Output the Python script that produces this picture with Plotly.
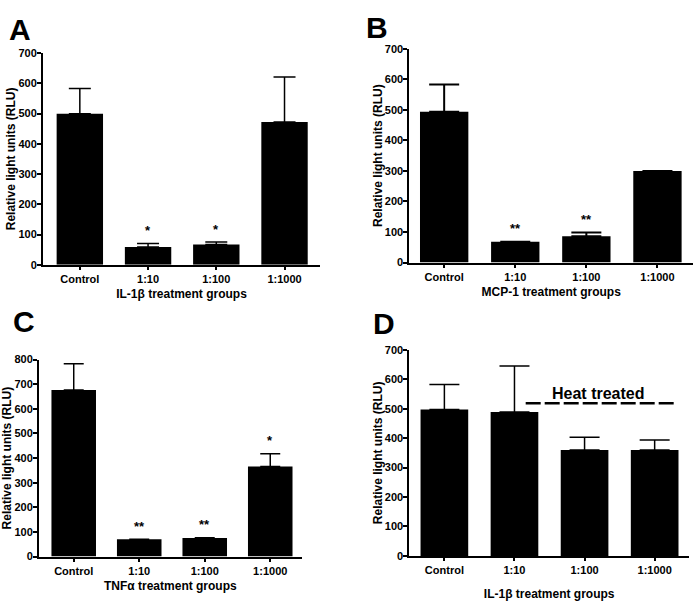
import plotly.graph_objects as go

categories = ["Control", "1:10", "1:100", "1:1000"]

a_values = [499, 59, 67, 472]
a_errors = [84, 11, 8, 149]
a_sig = ["", "*", "*", ""]

b_values = [494, 68, 86, 300]
b_errors = [89, 0, 12, 0]
b_sig = ["", "**", "**", ""]

c_values = [677, 70, 75, 366]
c_errors = [106, 0, 2, 52]
c_sig = ["", "**", "**", "*"]

d_values = [497, 489, 360, 360]
d_errors = [85, 156, 43, 34]
d_sig = ["", "", "", ""]

panel_letters = ["A", "B", "C", "D"]
x_titles = ["IL-1β treatment groups", "MCP-1 treatment groups",
            "TNFα treatment groups", "IL-1β treatment groups"]
y_title = "Relative light units (RLU)"
y_ranges = [700, 700, 800, 700]

heat_label = "Heat treated"
heat_line_x = [1.16, 3.29]
heat_line_y = 518
heat_text_pos = [2.19, 552]

FONT = "Liberation Sans, Arial, sans-serif"

panels = [
    dict(v=a_values, e=a_errors, s=a_sig, xd=[0.0615, 0.4578], yd=[0.5658, 0.9211],
         xr=[-0.54, 3.52], cap=11, ew=1.5, letter=(19.5, 23.5), tstand=6),
    dict(v=b_values, e=b_errors, s=b_sig, xd=[0.5856, 0.9914], yd=[0.5696, 0.9281],
         xr=[-0.49, 3.5], cap=15, ew=2, letter=(377, 21.5), tstand=6),
    dict(v=c_values, e=c_errors, s=c_sig, xd=[0.0558, 0.4316], yd=[0.0762, 0.4067],
         xr=[-0.53, 3.48], cap=10, ew=1.5, letter=(23.5, 321), tstand=6),
    dict(v=d_values, e=d_errors, s=d_sig, xd=[0.5856, 0.9857], yd=[0.0773, 0.4232],
         xr=[-0.5, 3.49], cap=15, ew=1.5, letter=(384, 323), tstand=14),
]

W, H = 699, 608
fig = go.Figure()
layout = dict(width=W, height=H, margin=dict(l=0, r=0, t=0, b=0),
              paper_bgcolor="white", plot_bgcolor="white", showlegend=False,
              font=dict(family=FONT, color="black"), bargap=0.32)
annotations = []
shapes = []

for i, p in enumerate(panels):
    n = "" if i == 0 else str(i + 1)
    xa, ya = "x" + n, "y" + n
    fig.add_trace(go.Bar(
        x=categories, y=p["v"], xaxis=xa, yaxis=ya,
        marker=dict(color="black", line=dict(width=0)),
        width=0.68,
        error_y=dict(type="data", symmetric=False, array=p["e"],
                     arrayminus=[0] * len(p["e"]), color="black",
                     thickness=p["ew"], width=p["cap"]),
        hoverinfo="skip",
    ))
    yticks = list(range(0, y_ranges[i] + 1, 100))
    layout["xaxis" + n] = dict(
        domain=p["xd"], anchor=ya, range=p["xr"], type="category",
        showline=True, linecolor="black", linewidth=2, showgrid=False,
        ticks="outside", ticklen=3, tickwidth=1.5, tickcolor="black",
        tickvals=categories, ticktext=["<b>" + c + "</b>" for c in categories],
        tickfont=dict(size=11, family=FONT, color="black"),
        title=dict(text="<b>" + x_titles[i] + "</b>",
                   font=dict(size=12, family=FONT), standoff=p["tstand"]),
        zeroline=False,
    )
    layout["yaxis" + n] = dict(
        domain=p["yd"], anchor=xa, range=[0, y_ranges[i]],
        tickvals=yticks, ticktext=["<b>%d</b>" % t for t in yticks],
        showline=True, linecolor="black", linewidth=2, showgrid=False,
        ticks="outside", ticklen=4, tickwidth=1.5, tickcolor="black",
        ticklabelstandoff=-2,
        tickfont=dict(size=11, family=FONT, color="black"),
        title=dict(text="<b>" + y_title + "</b>",
                   font=dict(size=12, family=FONT), standoff=0),
        zeroline=False,
    )
    for c, v, e, s in zip(categories, p["v"], p["e"], p["s"]):
        if s:
            annotations.append(dict(
                x=c, y=v + e, xref=xa, yref=ya, text="<b>" + s + "</b>",
                showarrow=False, yanchor="middle", yshift=13,
                font=dict(size=13, family=FONT)))
    lx, ly = p["letter"]
    annotations.append(dict(
        x=lx / W, y=1 - ly / H, xref="paper", yref="paper",
        xanchor="center", yanchor="middle", height=22, valign="middle",
        text="<b>" + panel_letters[i] + "</b>",
        showarrow=False, font=dict(size=30, family=FONT)))

# Heat treated marker on panel D
shapes.append(dict(type="line", xref="x4", yref="y4",
                   x0=heat_line_x[0], x1=heat_line_x[1],
                   y0=heat_line_y, y1=heat_line_y,
                   line=dict(color="black", width=2.5, dash="15px,4px")))
annotations.append(dict(x=heat_text_pos[0], y=heat_text_pos[1], xref="x4", yref="y4",
                        text="<b>" + heat_label + "</b>", showarrow=False,
                        font=dict(size=16, family=FONT)))

layout["annotations"] = annotations
layout["shapes"] = shapes
fig.update_layout(**layout)
fig.write_html("out.html", config={"displayModeBar": False},
               post_script="document.body.style.margin='0';document.body.style.padding='0';")
